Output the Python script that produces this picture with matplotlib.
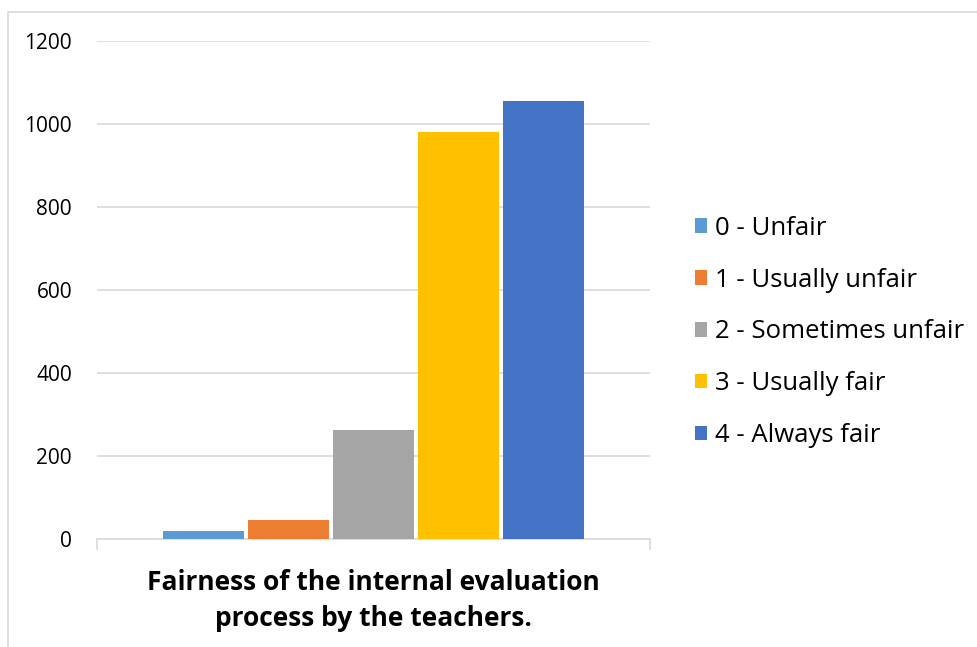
import matplotlib.pyplot as plt
from matplotlib.patches import Rectangle

# Responses to the fairness question
labels = ['0 - Unfair', '1 - Usually unfair', '2 - Sometimes unfair',
          '3 - Usually fair', '4 - Always fair']
counts = [20, 46, 262, 981, 1055]
colors = ['#5B9BD5', '#ED7D31', '#A5A5A5', '#FFC000', '#4472C4']
title = 'Fairness of the internal evaluation\nprocess by the teachers.'

plt.rcParams['font.family'] = ['Open Sans', 'DejaVu Sans']

fig = plt.figure(figsize=(9.78, 6.47), dpi=100)
ax = fig.add_axes([97/978, 1 - 539/647, (650-97)/978, (539-41)/647])

# outer chart border (partly cut off like the source)
fig.patches.append(Rectangle((8/978, -0.1), 1.2, 1 - 12/647 + 0.1,
                             transform=fig.transFigure, fill=False,
                             edgecolor='#D9D9D9', linewidth=1.2))

step = 85/553
width = 81/553
for i, (lab, c, col) in enumerate(zip(labels, counts, colors)):
    ax.bar((i - 2) * step, c, width=width, color=col, label=lab, zorder=3)

ax.set_xlim(-0.5, 0.5)
ax.set_ylim(0, 1200)
ax.set_yticks(range(0, 1201, 200))
ax.yaxis.grid(True, color='#D9D9D9', linewidth=1.2, zorder=0)
ax.set_axisbelow(True)
for s in ['top', 'right', 'left']:
    ax.spines[s].set_visible(False)
ax.spines['bottom'].set_color('#D9D9D9')
ax.spines['bottom'].set_linewidth(1.2)
ax.set_xticks([-0.5, 0.5])
ax.set_xticklabels(['', ''])
ax.tick_params(axis='x', length=8, color='#D9D9D9', width=1.2)
ax.tick_params(axis='y', length=0, labelsize=15, pad=18, colors='#000000')

ax.set_xlabel(title, fontsize=19, fontweight='bold', labelpad=10, linespacing=1.45)

ax.legend(loc='center left', bbox_to_anchor=(1.081, 0.4157), frameon=False,
          fontsize=18.5, handlelength=0.48, handleheight=0.48, handletextpad=0.3,
          labelspacing=1.05, borderpad=0, borderaxespad=0)

fig.savefig('out.png', dpi=100)
